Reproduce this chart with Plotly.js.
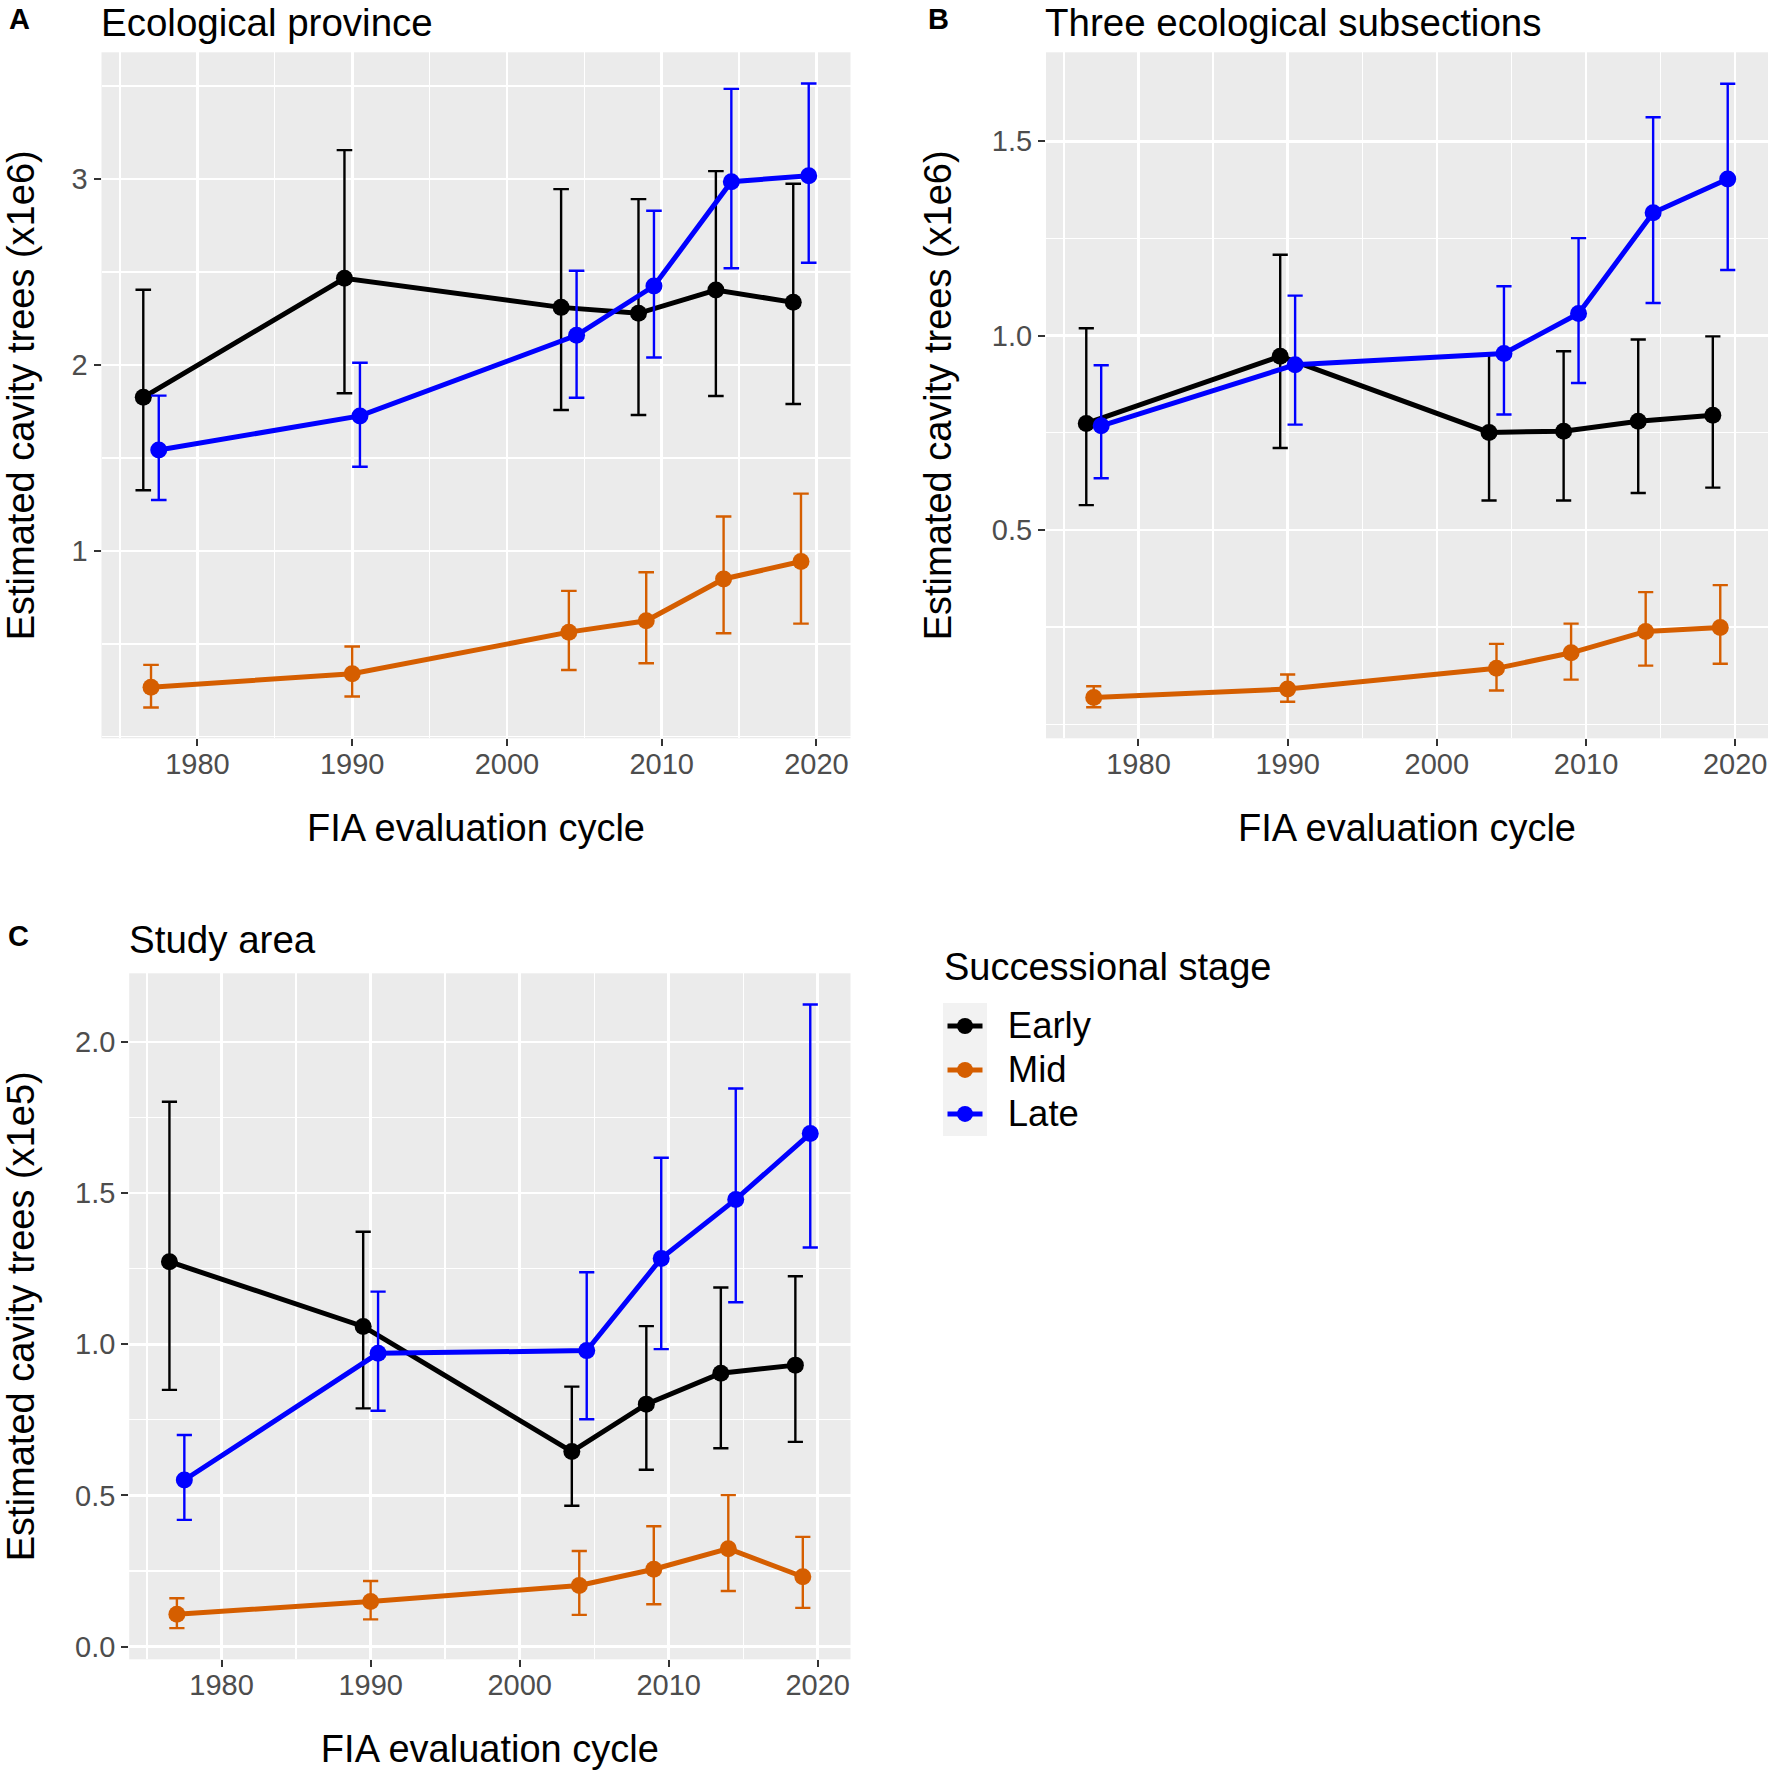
<!DOCTYPE html>
<html>
<head>
<meta charset="utf-8">
<script src="https://cdn.plot.ly/plotly-3.0.1.min.js"></script>
<style>html,body{margin:0;padding:0;background:#ffffff;}</style>
</head>
<body>
<div id="chart" style="width:1770px;height:1772px;"></div>
<script>
// ---------------- DATA ----------------
const cycleYears = [1977, 1990, 2004, 2009, 2014, 2019];
const stageNames = ['Early', 'Mid', 'Late'];

// Panel A: Ecological province (x1e6)
const provEarly   = [1.826, 2.466, 2.310, 2.278, 2.403, 2.337];
const provEarlyLo = [1.326, 1.848, 1.758, 1.731, 1.833, 1.790];
const provEarlyHi = [2.405, 3.156, 2.946, 2.892, 3.043, 2.975];
const provMid     = [0.267, 0.339, 0.563, 0.624, 0.849, 0.943];
const provMidLo   = [0.158, 0.217, 0.359, 0.396, 0.557, 0.609];
const provMidHi   = [0.387, 0.486, 0.785, 0.885, 1.185, 1.308];
const provLate    = [1.543, 1.726, 2.160, 2.425, 2.986, 3.018];
const provLateLo  = [1.274, 1.453, 1.824, 2.040, 2.520, 2.550];
const provLateHi  = [1.835, 2.012, 2.507, 2.830, 3.485, 3.514];

// Panel B: Three ecological subsections (x1e6)
const subEarly   = [0.774, 0.947, 0.751, 0.754, 0.780, 0.795];
const subEarlyLo = [0.564, 0.711, 0.576, 0.576, 0.595, 0.609];
const subEarlyHi = [1.019, 1.208, 0.952, 0.960, 0.990, 0.998];
const subMid     = [0.069, 0.091, 0.144, 0.184, 0.239, 0.249];
const subMidLo   = [0.044, 0.058, 0.087, 0.115, 0.151, 0.156];
const subMidHi   = [0.098, 0.128, 0.207, 0.259, 0.340, 0.358];
const subLate    = [0.768, 0.925, 0.954, 1.057, 1.316, 1.403];
const subLateLo  = [0.633, 0.771, 0.797, 0.878, 1.084, 1.169];
const subLateHi  = [0.924, 1.103, 1.127, 1.251, 1.562, 1.648];

// Panel C: Study area (x1e5)
const studyEarly   = [1.273, 1.059, 0.645, 0.802, 0.904, 0.931];
const studyEarlyLo = [0.849, 0.788, 0.466, 0.585, 0.656, 0.677];
const studyEarlyHi = [1.802, 1.372, 0.860, 1.060, 1.188, 1.225];
const studyMid     = [0.107, 0.149, 0.202, 0.256, 0.324, 0.231];
const studyMidLo   = [0.061, 0.090, 0.105, 0.140, 0.184, 0.128];
const studyMidHi   = [0.160, 0.217, 0.316, 0.398, 0.501, 0.363];
const studyLate    = [0.551, 0.970, 0.979, 1.284, 1.479, 1.697];
const studyLateLo  = [0.419, 0.780, 0.752, 0.984, 1.139, 1.320];
const studyLateHi  = [0.700, 1.174, 1.238, 1.617, 1.846, 2.124];

const xTickVals = [1980, 1990, 2000, 2010, 2020];
const xTickText = ['1980', '1990', '2000', '2010', '2020'];
const yTickValsA = [1, 2, 3];
const yTickTextA = ['1', '2', '3'];
const yTickValsB = [0.5, 1.0, 1.5];
const yTickTextB = ['0.5', '1.0', '1.5'];
const yTickValsC = [0, 0.5, 1.0, 1.5, 2.0];
const yTickTextC = ['0.0', '0.5', '1.0', '1.5', '2.0'];

// ---------------- STYLE ----------------
const stageColors = ['#000000', '#D55E00', '#0000FF'];
const dodge = [-0.5, 0, 0.5];      // position_dodge offsets (years)
const FONT = 'Liberation Sans, Arial, Helvetica, sans-serif';
const W = 1770, H = 1772;
const px = v => v / W;
const py = v => 1 - v / H;

const panels = [
  {ax: '', series: [[provEarly, provEarlyLo, provEarlyHi], [provMid, provMidLo, provMidHi], [provLate, provLateLo, provLateHi]], capw: 7.8},
  {ax: '2', series: [[subEarly, subEarlyLo, subEarlyHi], [subMid, subMidLo, subMidHi], [subLate, subLateLo, subLateHi]], capw: 7.6},
  {ax: '3', series: [[studyEarly, studyEarlyLo, studyEarlyHi], [studyMid, studyMidLo, studyMidHi], [studyLate, studyLateLo, studyLateHi]], capw: 7.6}
];

const traces = [];
panels.forEach((p, pi) => {
  p.series.forEach((s, si) => {
    const [mid, lo, hi] = s;
    traces.push({
      type: 'scatter',
      mode: 'lines+markers',
      name: '<span style="font-size:36.5px">&nbsp;&nbsp;' + stageNames[si] + '</span>',
      legendgroup: stageNames[si],
      showlegend: pi === 0,
      xaxis: 'x' + p.ax,
      yaxis: 'y' + p.ax,
      x: cycleYears.map(y => y + dodge[si]),
      y: mid,
      line: {color: stageColors[si], width: 5},
      marker: {color: stageColors[si], size: 17},
      error_y: {
        type: 'data', symmetric: false,
        array: hi.map((h, i) => h - mid[i]),
        arrayminus: lo.map((l, i) => mid[i] - l),
        color: stageColors[si], thickness: 2.4, width: p.capw
      },
      hoverinfo: 'skip'
    });
  });
});

const tickFont = {family: FONT, size: 29, color: '#4D4D4D'};
const titleFont = {family: FONT, size: 38, color: '#000000'};

function xaxisDef(domain, anchor) {
  return {
    domain: domain, anchor: anchor, range: [1973.8, 2022.2],
    tickmode: 'array', tickvals: xTickVals, ticktext: xTickText,
    ticks: 'outside', ticklen: 7, tickwidth: 2, tickcolor: '#333333',
    tickfont: tickFont, ticklabelstandoff: -7,
    showgrid: true, gridcolor: '#FFFFFF', gridwidth: 2.6,
    minor: {tick0: 1975, dtick: 10, showgrid: true, gridcolor: '#FFFFFF', gridwidth: 1.3, ticks: ''},
    zeroline: false, showline: false,
    title: {text: 'FIA evaluation cycle', font: titleFont, standoff: 35},
    automargin: false
  };
}
function yaxisDef(domain, anchor, range, tv, tt, mdt, ytitle) {
  return {
    domain: domain, anchor: anchor, range: range,
    tickmode: 'array', tickvals: tv, ticktext: tt,
    ticks: 'outside', ticklen: 7, tickwidth: 2, tickcolor: '#333333',
    tickfont: tickFont,
    showgrid: true, gridcolor: '#FFFFFF', gridwidth: 2.6,
    minor: {tick0: 0, dtick: mdt, showgrid: true, gridcolor: '#FFFFFF', gridwidth: 1.3, ticks: ''},
    zeroline: false, showline: false,
    title: {text: ytitle, font: titleFont, standoff: 28},
    automargin: false
  };
}

const domAx = [px(101.5), px(850.5)];
const domBx = [px(1046), px(1768)];
const domCx = [px(129.2), px(850.5)];
const domABy = [py(738.3), py(52.3)];
const domCy = [py(1659.3), py(973.3)];

const layout = {
  width: W, height: H,
  margin: {l: 0, r: 0, t: 0, b: 0},
  paper_bgcolor: '#FFFFFF',
  plot_bgcolor: '#EBEBEB',
  font: {family: FONT, color: '#000000'},
  showlegend: true,
  xaxis: xaxisDef(domAx, 'y'),
  yaxis: yaxisDef(domABy, 'x', [-0.008, 3.682], yTickValsA, yTickTextA, 0.5, 'Estimated cavity trees (x1e6)'),
  xaxis2: xaxisDef(domBx, 'y2'),
  yaxis2: yaxisDef(domABy, 'x2', [-0.036, 1.729], yTickValsB, yTickTextB, 0.25, 'Estimated cavity trees (x1e6)'),
  xaxis3: xaxisDef(domCx, 'y3'),
  yaxis3: yaxisDef(domCy, 'x3', [-0.042, 2.227], yTickValsC, yTickTextC, 0.25, 'Estimated cavity trees (x1e5)'),
  legend: {
    x: px(942.5), y: py(999), xanchor: 'left', yanchor: 'top',
    bgcolor: 'rgba(0,0,0,0)', borderwidth: 0,
    font: {family: FONT, size: 31.5, color: '#000000'},
    itemwidth: 35, tracegroupgap: 0
  },
  shapes: [
    {type: 'rect', xref: 'paper', yref: 'paper', x0: px(943), x1: px(987), y0: py(1136), y1: py(1003),
     fillcolor: '#F2F2F2', line: {width: 0}, layer: 'below'}
  ],
  annotations: [
    {text: '<b>A</b>', x: px(7), y: py(37), xref: 'paper', yref: 'paper', xanchor: 'left', yanchor: 'bottom', showarrow: false, font: {family: FONT, size: 29}},
    {text: 'Ecological province', x: px(100), y: 1, xref: 'paper', yref: 'paper', xanchor: 'left', yanchor: 'top', borderpad: 0, showarrow: false, font: {family: FONT, size: 38.5}},
    {text: '<b>B</b>', x: px(926), y: py(37), xref: 'paper', yref: 'paper', xanchor: 'left', yanchor: 'bottom', showarrow: false, font: {family: FONT, size: 29}},
    {text: 'Three ecological subsections', x: px(1044), y: 1, xref: 'paper', yref: 'paper', xanchor: 'left', yanchor: 'top', borderpad: 0, showarrow: false, font: {family: FONT, size: 38.5}},
    {text: '<b>C</b>', x: px(6), y: py(954), xref: 'paper', yref: 'paper', xanchor: 'left', yanchor: 'bottom', showarrow: false, font: {family: FONT, size: 29}},
    {text: 'Study area', x: px(128), y: py(917), xref: 'paper', yref: 'paper', xanchor: 'left', yanchor: 'top', borderpad: 0, showarrow: false, font: {family: FONT, size: 38.5}},
    {text: 'Successional stage', x: px(943), y: py(945), xref: 'paper', yref: 'paper', xanchor: 'left', yanchor: 'top', borderpad: 0, showarrow: false, font: {family: FONT, size: 38}}
  ]
};

Plotly.newPlot('chart', traces, layout, {staticPlot: true, displayModeBar: false});
</script>
</body>
</html>
